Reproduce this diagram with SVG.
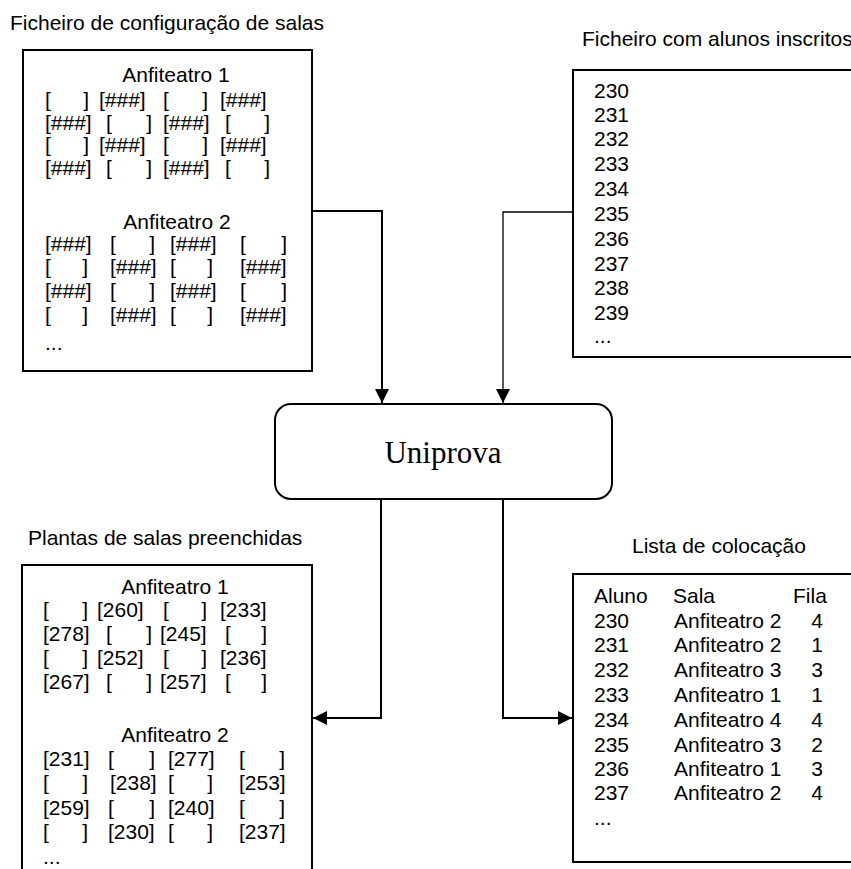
<svg xmlns="http://www.w3.org/2000/svg" width="851" height="869" viewBox="0 0 851 869">
<defs>
<style>
text{font-family:"Liberation Sans",Arial,sans-serif;font-size:21px;fill:#000}
.c{text-anchor:middle}
.e{text-anchor:end}
.box{fill:#fff;stroke:#000;stroke-width:2}
.conn{fill:none;stroke:#000;stroke-width:2}
.thin{stroke-width:1.3}
.serif{font-family:"Liberation Serif","Times New Roman",serif;font-size:31px}
</style>
<marker id="ah" viewBox="0 0 14 14" refX="14" refY="7" markerWidth="14" markerHeight="14" markerUnits="userSpaceOnUse" orient="auto">
<path d="M0,0 L14,7 L0,14 z" fill="#000"/>
</marker>
</defs>
<rect width="851" height="869" fill="#fff"/>

<g id="config">
<text x="10" y="30">Ficheiro de configuração de salas</text>
<rect class="box" x="23" y="50" width="289" height="321"/>
<text class="c" x="176" y="82">Anfiteatro 1</text>
<g>
<text x="45" y="107">[</text><text class="e" x="89" y="107">]</text><text x="99" y="107">[###]</text><text x="163" y="107">[</text><text class="e" x="208" y="107">]</text><text x="220" y="107">[###]</text>
<text x="45" y="130">[###]</text><text x="106" y="130">[</text><text class="e" x="152" y="130">]</text><text x="163" y="130">[###]</text><text x="225" y="130">[</text><text class="e" x="270" y="130">]</text>
<text x="45" y="152">[</text><text class="e" x="89" y="152">]</text><text x="99" y="152">[###]</text><text x="163" y="152">[</text><text class="e" x="208" y="152">]</text><text x="220" y="152">[###]</text>
<text x="45" y="175">[###]</text><text x="106" y="175">[</text><text class="e" x="152" y="175">]</text><text x="163" y="175">[###]</text><text x="225" y="175">[</text><text class="e" x="270" y="175">]</text>
</g>
<text class="c" x="177" y="229">Anfiteatro 2</text>
<g>
<text x="45" y="251">[###]</text><text x="110" y="251">[</text><text class="e" x="155" y="251">]</text><text x="170" y="251">[###]</text><text x="240" y="251">[</text><text class="e" x="287" y="251">]</text>
<text x="45" y="274">[</text><text class="e" x="88" y="274">]</text><text x="110" y="274">[###]</text><text x="170" y="274">[</text><text class="e" x="213" y="274">]</text><text x="240" y="274">[###]</text>
<text x="45" y="298">[###]</text><text x="110" y="298">[</text><text class="e" x="155" y="298">]</text><text x="170" y="298">[###]</text><text x="240" y="298">[</text><text class="e" x="287" y="298">]</text>
<text x="45" y="322">[</text><text class="e" x="88" y="322">]</text><text x="110" y="322">[###]</text><text x="170" y="322">[</text><text class="e" x="213" y="322">]</text><text x="240" y="322">[###]</text>
</g>
<text x="45" y="350">...</text>
</g>

<g id="alunos">
<text x="582" y="46">Ficheiro com alunos inscritos</text>
<rect class="box" x="573" y="70" width="290" height="287"/>
<text x="594" y="98">230</text>
<text x="594" y="122">231</text>
<text x="594" y="146">232</text>
<text x="594" y="171">233</text>
<text x="594" y="196">234</text>
<text x="594" y="221">235</text>
<text x="594" y="246">236</text>
<text x="594" y="271">237</text>
<text x="594" y="295">238</text>
<text x="594" y="320">239</text>
<text x="594" y="343">...</text>
</g>

<g id="uniprova">
<rect class="box" x="275" y="404" width="337" height="95" rx="16" ry="16"/>
<text class="c serif" x="443" y="463">Uniprova</text>
</g>

<g id="plantas">
<text x="28" y="545">Plantas de salas preenchidas</text>
<rect class="box" x="22" y="565" width="290" height="330"/>
<text class="c" x="175" y="594">Anfiteatro 1</text>
<g>
<text x="43" y="617">[</text><text class="e" x="88" y="617">]</text><text x="97" y="617">[260]</text><text x="163" y="617">[</text><text class="e" x="207" y="617">]</text><text x="220" y="617">[233]</text>
<text x="43" y="641">[278]</text><text x="106" y="641">[</text><text class="e" x="152" y="641">]</text><text x="160" y="641">[245]</text><text x="225" y="641">[</text><text class="e" x="267" y="641">]</text>
<text x="43" y="665">[</text><text class="e" x="88" y="665">]</text><text x="97" y="665">[252]</text><text x="163" y="665">[</text><text class="e" x="207" y="665">]</text><text x="220" y="665">[236]</text>
<text x="43" y="689">[267]</text><text x="106" y="689">[</text><text class="e" x="152" y="689">]</text><text x="160" y="689">[257]</text><text x="225" y="689">[</text><text class="e" x="267" y="689">]</text>
</g>
<text class="c" x="175" y="742">Anfiteatro 2</text>
<g>
<text x="43" y="766">[231]</text><text x="108" y="766">[</text><text class="e" x="155" y="766">]</text><text x="168" y="766">[277]</text><text x="239" y="766">[</text><text class="e" x="285" y="766">]</text>
<text x="43" y="790">[</text><text class="e" x="88" y="790">]</text><text x="110" y="790">[238]</text><text x="168" y="790">[</text><text class="e" x="213" y="790">]</text><text x="239" y="790">[253]</text>
<text x="43" y="815">[259]</text><text x="108" y="815">[</text><text class="e" x="155" y="815">]</text><text x="168" y="815">[240]</text><text x="239" y="815">[</text><text class="e" x="285" y="815">]</text>
<text x="43" y="839">[</text><text class="e" x="88" y="839">]</text><text x="108" y="839">[230]</text><text x="168" y="839">[</text><text class="e" x="213" y="839">]</text><text x="239" y="839">[237]</text>
</g>
<text x="43" y="864">...</text>
</g>

<g id="lista">
<text x="632" y="553">Lista de colocação</text>
<rect class="box" x="573" y="574" width="290" height="288"/>
<text x="594" y="603">Aluno</text><text x="673" y="603">Sala</text><text x="793" y="603">Fila</text>
<text x="594" y="628">230</text><text x="674" y="628">Anfiteatro 2</text><text class="e" x="823" y="628">4</text>
<text x="594" y="652">231</text><text x="674" y="652">Anfiteatro 2</text><text class="e" x="823" y="652">1</text>
<text x="594" y="677">232</text><text x="674" y="677">Anfiteatro 3</text><text class="e" x="823" y="677">3</text>
<text x="594" y="702">233</text><text x="674" y="702">Anfiteatro 1</text><text class="e" x="823" y="702">1</text>
<text x="594" y="727">234</text><text x="674" y="727">Anfiteatro 4</text><text class="e" x="823" y="727">4</text>
<text x="594" y="752">235</text><text x="674" y="752">Anfiteatro 3</text><text class="e" x="823" y="752">2</text>
<text x="594" y="776">236</text><text x="674" y="776">Anfiteatro 1</text><text class="e" x="823" y="776">3</text>
<text x="594" y="800">237</text><text x="674" y="800">Anfiteatro 2</text><text class="e" x="823" y="800">4</text>
<text x="594" y="825">...</text>
</g>

<g id="connectors">
<path class="conn" d="M312,211 H382 V403" marker-end="url(#ah)"/>
<path class="conn thin" d="M573,212 H503 V403" marker-end="url(#ah)"/>
<path class="conn" d="M381,499 V718 H313" marker-end="url(#ah)"/>
<path class="conn" d="M503,499 V718 H572" marker-end="url(#ah)"/>
</g>
</svg>
